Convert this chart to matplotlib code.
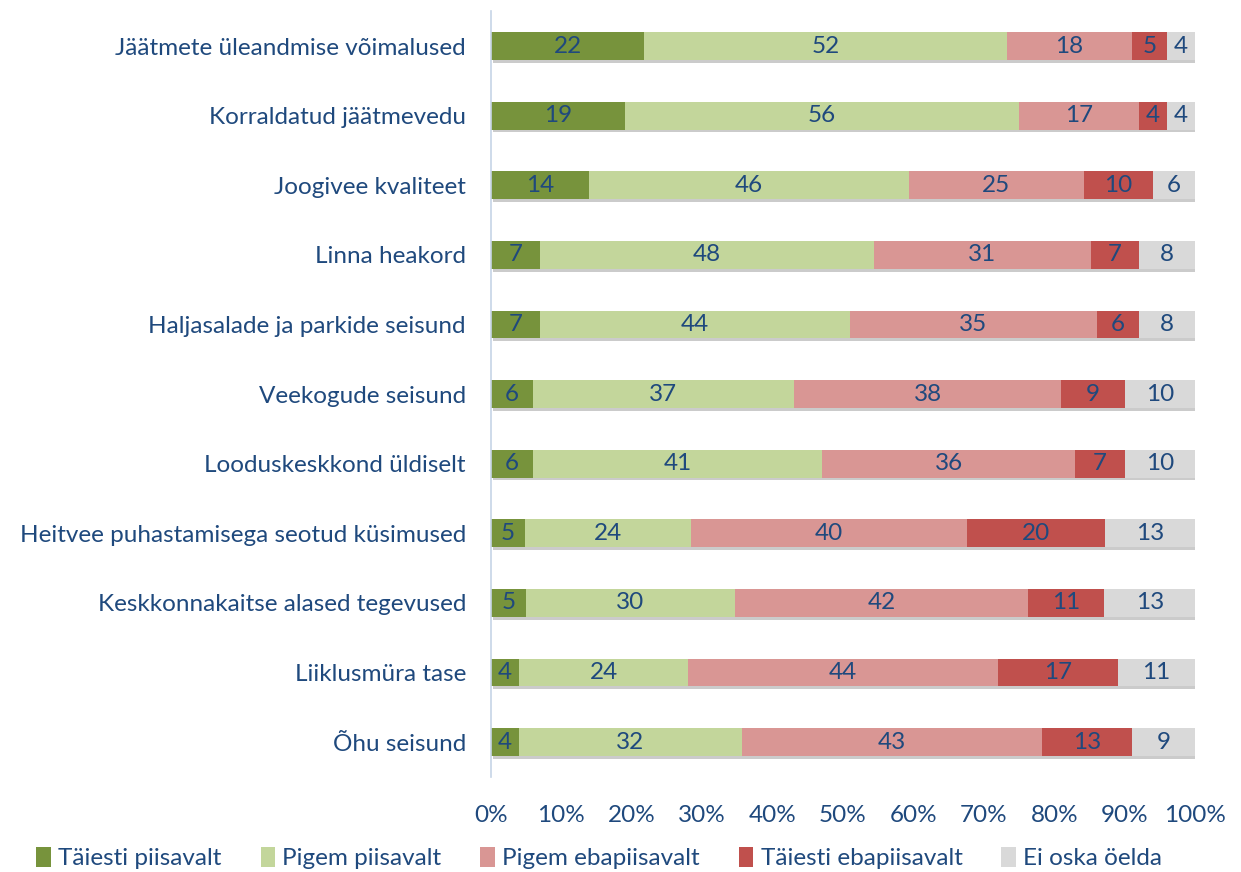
import numpy as np
import matplotlib
matplotlib.use("Agg")
import matplotlib.pyplot as plt
import matplotlib.patheffects as pe
from matplotlib.patches import Patch

plt.rcParams["font.family"] = ["Lato", "DejaVu Sans"]

categories = [
    "Jäätmete üleandmise võimalused",
    "Korraldatud jäätmevedu",
    "Joogivee kvaliteet",
    "Linna heakord",
    "Haljasalade ja parkide seisund",
    "Veekogude seisund",
    "Looduskeskkond üldiselt",
    "Heitvee puhastamisega seotud küsimused",
    "Keskkonnakaitse alased tegevused",
    "Liiklusmüra tase",
    "Õhu seisund",
]
series_names = ["Täiesti piisavalt", "Pigem piisavalt", "Pigem ebapiisavalt",
                "Täiesti ebapiisavalt", "Ei oska öelda"]
taiesti_piisavalt = [22, 19, 14, 7, 7, 6, 6, 5, 5, 4, 4]
pigem_piisavalt = [52, 56, 46, 48, 44, 37, 41, 24, 30, 24, 32]
pigem_ebapiisavalt = [18, 17, 25, 31, 35, 38, 36, 40, 42, 44, 43]
taiesti_ebapiisavalt = [5, 4, 10, 7, 6, 9, 7, 20, 11, 17, 13]
ei_oska = [4, 4, 6, 8, 8, 10, 10, 13, 13, 11, 9]
colors = ["#77933C", "#C3D69B", "#D99694", "#C0504D", "#D9D9D9"]

TXT = "#1F497D"
FS = 17.5

data = np.array([taiesti_piisavalt, pigem_piisavalt, pigem_ebapiisavalt,
                 taiesti_ebapiisavalt, ei_oska], dtype=float)
shares = data / data.sum(axis=0) * 100

fig = plt.figure(figsize=(12.41, 8.72), dpi=100)
ax = fig.add_axes([0.3956, 0.109, 0.5674, 0.878])

y = np.arange(len(categories))
left = np.zeros(len(categories))
shadow = [pe.SimplePatchShadow(offset=(1.5, -2), shadow_rgbFace="#999999", alpha=0.5), pe.Normal()]
for i, name in enumerate(series_names):
    bars = ax.barh(y, shares[i], left=left, height=0.4, color=colors[i], zorder=2)
    for b in bars:
        b.set_path_effects(shadow)
    for j in range(len(categories)):
        ax.text(left[j] + shares[i][j] / 2, y[j], f"{int(data[i][j])}",
                ha="center", va="center", fontsize=FS, color=TXT, zorder=3)
    left += shares[i]

ax.set_xlim(0, 100)
ax.set_ylim(len(categories) - 0.5, -0.5)
ax.set_yticks(y)
ax.set_yticklabels(categories, fontsize=FS, color=TXT)
ax.set_xticks(np.arange(0, 101, 10))
ax.set_xticklabels([f"{v}%" for v in range(0, 101, 10)], fontsize=FS, color=TXT)
ax.tick_params(axis="both", length=0)
ax.tick_params(axis="x", pad=20)
ax.tick_params(axis="y", pad=18)
for s in ["top", "right", "bottom"]:
    ax.spines[s].set_visible(False)
ax.spines["left"].set_color("#C6D4E6")
ax.spines["left"].set_linewidth(1.2)

handles = [Patch(facecolor=c, edgecolor="none") for c in colors]
leg = fig.legend(handles, series_names, loc="center", ncol=5,
                 bbox_to_anchor=(0.483, 0.016), frameon=False, fontsize=FS,
                 handlelength=0.6, handleheight=0.9, handletextpad=0.3,
                 columnspacing=1.6)
for t in leg.get_texts():
    t.set_color(TXT)

fig.savefig("out.png", dpi=100)
